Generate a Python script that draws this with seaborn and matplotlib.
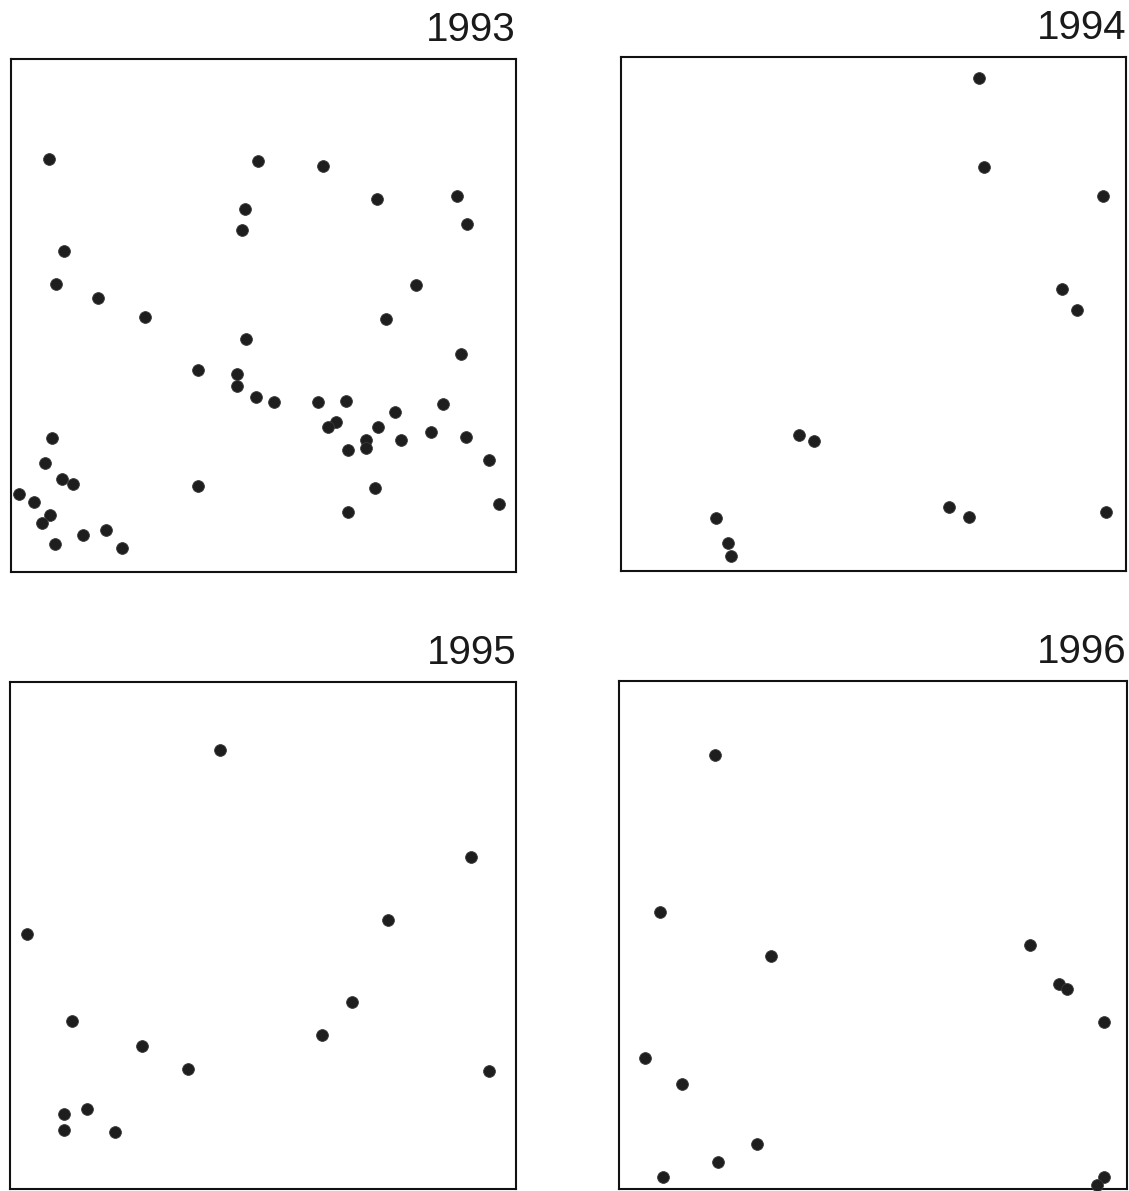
import numpy as np
import pandas as pd
import matplotlib
matplotlib.use('Agg')
import matplotlib.pyplot as plt
import seaborn as sns

# ── data (0–100 scale on both axes) ─────────────────────────────────
years = ['1993', '1994', '1995', '1996']

x_1993 = [7.5, 48.9, 61.8, 72.5, 88.3, 90.3, 46.3, 45.7, 10.5, 8.9, 17.2, 26.5,
          80.2, 74.3, 46.5, 89.1, 37.0, 44.8, 44.8, 48.5, 52.1, 60.8, 66.3, 85.5,
          76.0, 64.4, 62.8, 72.7, 70.3, 70.3, 66.7, 77.2, 83.2, 90.1, 8.1, 6.7,
          10.1, 12.3, 94.7, 37.0, 72.1, 1.6, 4.6, 7.7, 6.1, 96.6, 66.7, 18.8,
          14.3, 8.7, 22.0]
y_1993 = [80.5, 80.1, 79.1, 72.7, 73.3, 67.8, 70.8, 66.7, 62.6, 56.1, 53.4, 49.7,
          55.9, 49.3, 45.4, 42.5, 39.4, 38.6, 36.3, 34.1, 33.1, 33.1, 33.3, 32.7,
          31.2, 29.2, 28.3, 28.3, 25.7, 24.2, 23.8, 25.7, 27.3, 26.3, 26.1, 21.2,
          18.1, 17.2, 21.8, 16.8, 16.4, 15.2, 13.6, 11.1, 9.6, 13.3, 11.7, 8.2,
          7.2, 5.5, 4.7]

x_1994 = [70.9, 71.9, 95.4, 87.3, 90.3, 35.2, 38.2, 65.0, 68.9, 96.0, 18.8, 21.2, 21.8]
y_1994 = [95.9, 78.6, 73.0, 54.9, 50.8, 26.5, 25.3, 12.5, 10.5, 11.5, 10.3, 5.4, 2.9]

x_1995 = [41.5, 91.1, 3.4, 74.7, 67.6, 12.3, 61.7, 26.1, 35.2, 94.7, 15.2, 10.7, 10.7, 20.8]
y_1995 = [86.6, 65.5, 50.3, 53.1, 36.9, 33.1, 30.4, 28.2, 23.7, 23.3, 15.8, 14.8, 11.6, 11.2]

x_1996 = [18.9, 8.1, 29.9, 80.9, 86.6, 88.2, 95.5, 5.1, 12.4, 27.2, 19.5, 8.7, 95.5, 94.1]
y_1996 = [85.4, 54.5, 45.9, 48.0, 40.4, 39.4, 32.9, 25.8, 20.7, 8.9, 5.3, 2.4, 2.4, 0.8]

xs = [x_1993, x_1994, x_1995, x_1996]
ys = [y_1993, y_1994, y_1995, y_1996]

# ── style ───────────────────────────────────────────────────
sns.set_style('white')
plt.rcParams['font.family'] = ['Liberation Sans', 'DejaVu Sans']

W, H = 1129, 1191
fig = plt.figure(figsize=(W / 100, H / 100), dpi=100)
fig.patch.set_facecolor('white')

# panel boxes in pixels: left, top, right, bottom
boxes = [(11, 59, 516, 572), (621, 57, 1126, 571),
         (10, 682, 516, 1189), (619, 681, 1127, 1189)]

for year, x, y, (l, t, r, b) in zip(years, xs, ys, boxes):
    ax = fig.add_axes([l / W, 1 - b / H, (r - l) / W, (b - t) / H])
    df = pd.DataFrame({'x': x, 'y': y})
    sns.scatterplot(data=df, x='x', y='y', ax=ax, s=72, color='#1e1e1e',
                    edgecolor='#3a3a3a', linewidth=0.6, legend=False,
                    clip_on=False, zorder=3)
    ax.set_xlim(0, 100)
    ax.set_ylim(0, 100)
    ax.set_xticks([])
    ax.set_yticks([])
    ax.set_xlabel('')
    ax.set_ylabel('')
    for sp in ax.spines.values():
        sp.set_color('#111111')
        sp.set_linewidth(1.5)
    ax.set_title(year, loc='right', fontsize=29, pad=13, color='#1a1a1a')

plt.savefig('out.png', dpi=100)
plt.close()
